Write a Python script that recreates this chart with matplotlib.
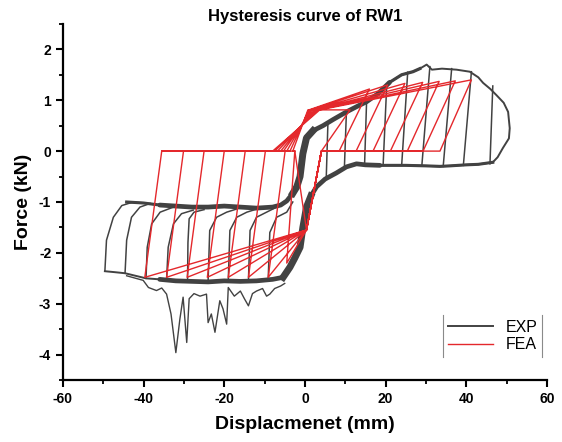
import matplotlib
matplotlib.use("Agg")
import matplotlib.pyplot as plt
from matplotlib.lines import Line2D
from matplotlib.ticker import MultipleLocator

plt.rcParams["font.family"] = ["Liberation Sans", "DejaVu Sans"]
plt.rcParams["axes.unicode_minus"] = False

EXP_COLOR = "#424242"
FEA_COLOR = "#e4282c"

# ---- EXP: loading branch (negative plateau -> positive envelope -> last peak)
exp_upper_x = [-44.2, -40, -36, -32, -28, -24, -20, -16, -12, -8, -6, -4.5, -3, -2, -1.2,
               -0.5, 0.4, 2, 4.5, 7, 10.3, 13, 15.3, 18, 21, 24, 26.8, 28.5, 30.2, 31.5,
               34, 37.6, 40.9, 43, 44.2, 46, 47.5, 49.3, 50.4, 50.8, 50.6, 49.1, 47.8, 46.6]
exp_upper_y = [-1.0, -1.02, -1.06, -1.08, -1.1, -1.1, -1.08, -1.1, -1.12, -1.1, -1.06, -0.98,
               -0.83, -0.7, -0.5, -0.05, 0.26, 0.4, 0.5, 0.62, 0.77, 0.88, 0.97, 1.12, 1.35,
               1.5, 1.56, 1.62, 1.7, 1.6, 1.62, 1.6, 1.56, 1.45, 1.34, 1.22, 1.1, 0.95, 0.77,
               0.45, 0.25, 0.06, -0.12, -0.22]

# ---- EXP: unloading branch (positive plateau -> negative envelope)
exp_lower_x = [46.6, 43, 40, 36, 33.5, 30, 25, 21, 18.6, 15, 12.8, 10.3, 7.8, 5, 2.9, 1.5,
               0.4, -0.5, -1.2, -2.5, -3.7, -5.4, -8, -12, -16, -20, -24, -28, -32, -36,
               -39.4, -42, -44.6, -47, -49.6]
exp_lower_y = [-0.22, -0.26, -0.27, -0.29, -0.3, -0.29, -0.28, -0.28, -0.28, -0.27, -0.25,
               -0.31, -0.43, -0.55, -0.7, -0.88, -1.1, -1.5, -1.89, -2.1, -2.28, -2.48,
               -2.52, -2.55, -2.56, -2.55, -2.57, -2.56, -2.55, -2.52, -2.5, -2.45, -2.4,
               -2.38, -2.36]

# ---- EXP: reloading curves at the negative peaks
exp_neg_unload_x = [
    [-49.6, -49.2, -47.5, -45.4, -42.6],
    [-44.6, -44.2, -43.0, -40.9, -38.4],
    [-39.4, -39.1, -38.0, -35.9, -32.6],
    [-34.3, -33.9, -32.6, -30.6, -27.7],
    [-29.1, -29.0, -28.7, -27.5, -25.0],
    [-24.0, -23.6, -21.9, -19.4, -17.0],
    [-19.0, -18.6, -16.9, -14.4, -12.0],
    [-14.0, -13.6, -12.0, -9.5, -7.5],
    [-9.1, -8.7, -7.0, -4.5, -3.0],
]
exp_neg_unload_y = [
    [-2.36, -1.75, -1.3, -1.07, -1.0],
    [-2.4, -1.75, -1.3, -1.1, -1.03],
    [-2.5, -1.89, -1.43, -1.2, -1.1],
    [-2.52, -1.89, -1.43, -1.23, -1.16],
    [-2.54, -1.8, -1.33, -1.2, -1.15],
    [-2.55, -1.56, -1.3, -1.2, -1.14],
    [-2.55, -1.56, -1.3, -1.2, -1.14],
    [-2.55, -1.56, -1.3, -1.2, -1.12],
    [-2.53, -1.6, -1.3, -1.2, -1.0],
]

# ---- EXP: unloading lines at the positive peaks (top -> bottom)
exp_pos_top_x = [5.7, 10.3, 15.3, 20.3, 25.5, 31.0, 36.4, 41.3, 46.6]
exp_pos_top_y = [0.52, 0.77, 0.97, 1.3, 1.55, 1.66, 1.62, 1.56, 1.28]
exp_pos_bot_x = [5.3, 9.8, 14.8, 19.4, 24.0, 29.0, 34.3, 39.3, 45.9]
exp_pos_bot_y = [-0.52, -0.32, -0.27, -0.28, -0.28, -0.29, -0.3, -0.28, -0.25]

# ---- EXP: spikes below the negative envelope
exp_spike_x = [-44.2, -40.1, -38.8, -36.8, -35.5, -34.3, -33.2, -32.0, -31.0, -30.2, -29.3,
               -28.7, -27.5, -26.0, -24.4, -24.0, -23.2, -22.3, -21.1, -20.3, -19.4, -19.0,
               -17.5, -16.0, -15.0, -14.0, -13.0, -12.0, -10.5, -9.5, -8.7, -7.5, -6.0, -5.0]
exp_spike_y = [-2.45, -2.54, -2.68, -2.74, -2.69, -2.81, -3.2, -3.96, -3.3, -2.87, -3.76,
               -2.9, -2.8, -2.85, -2.81, -3.37, -3.2, -3.56, -2.94, -3.1, -3.4, -2.68,
               -2.85, -2.75, -2.9, -3.04, -2.8, -2.75, -2.7, -2.85, -2.81, -2.7, -2.65, -2.6]

# ---- FEA: cycle key points
fea_neg_peak_x = [-4.5, -9.1, -14.0, -19.0, -24.2, -29.2, -34.3, -39.7]
fea_neg_peak_y = [-2.2, -2.48, -2.48, -2.48, -2.48, -2.48, -2.48, -2.48]
fea_neg_zero_x = [-2.5, -4.9, -9.8, -14.8, -20.0, -25.0, -30.1, -35.5]
fea_fan_start_x = [-3.0, -3.7, -4.5, -5.3, -6.0, -6.8, -7.5, -8.0]
fea_fan_end_x = [0.75, 1.0, 1.4, 1.8, 2.3, 2.8, 3.2, 3.7]
fea_fan_end_y = [0.81, 0.81, 0.81, 0.81, 0.81, 0.81, 0.81, 0.81]
fea_pos_peak_x = [11.2, 16.0, 20.5, 24.8, 29.2, 33.3, 37.3, 41.3]
fea_pos_peak_y = [0.81, 1.22, 1.3, 1.33, 1.35, 1.37, 1.38, 1.40]
fea_pos_zero_x = [4.1, 8.5, 12.7, 16.9, 21.2, 25.4, 29.3, 33.5]
fea_pivot_x = [0.4, 4.1]
fea_pivot_y = [-1.55, 0.0]

fea_x, fea_y = [], []
for i in range(len(fea_neg_peak_x)):
    fea_x += [fea_neg_zero_x[i], fea_fan_start_x[i], fea_fan_end_x[i], fea_pos_peak_x[i],
              fea_pos_zero_x[i], fea_pivot_x[1], fea_pivot_x[0], fea_neg_peak_x[i],
              fea_neg_zero_x[i]]
    fea_y += [0.0, 0.0, fea_fan_end_y[i], fea_pos_peak_y[i], 0.0, fea_pivot_y[1],
              fea_pivot_y[0], fea_neg_peak_y[i], 0.0]

fig = plt.figure(figsize=(5.62, 4.42), dpi=100)
ax = fig.add_axes([0.112, 0.140, 0.861, 0.806])

# EXP thin lines
ax.plot(exp_upper_x, exp_upper_y, color=EXP_COLOR, lw=1.4, label="EXP")
ax.plot(exp_lower_x, exp_lower_y, color=EXP_COLOR, lw=1.4)
ax.plot(exp_spike_x, exp_spike_y, color=EXP_COLOR, lw=1.0)
for xs, ys in zip(exp_neg_unload_x, exp_neg_unload_y):
    ax.plot(xs, ys, color=EXP_COLOR, lw=1.1)
for x0, y0, x1, y1 in zip(exp_pos_top_x, exp_pos_top_y, exp_pos_bot_x, exp_pos_bot_y):
    ax.plot([x0, x1], [y0, y1], color=EXP_COLOR, lw=1.1)
# overlapping cycles make the bands look thick
ax.plot(exp_upper_x[:3], exp_upper_y[:3], color=EXP_COLOR, lw=2.2)
ax.plot(exp_upper_x[2:25], exp_upper_y[2:25], color=EXP_COLOR, lw=3.4, solid_capstyle="round")
ax.plot(exp_upper_x[24:28], exp_upper_y[24:28], color=EXP_COLOR, lw=2.3)
ax.plot(exp_lower_x[:9], exp_lower_y[:9], color=EXP_COLOR, lw=2.2)
ax.plot(exp_lower_x[8:30], exp_lower_y[8:30], color=EXP_COLOR, lw=3.4, solid_capstyle="round")
ax.plot(exp_upper_x[12:18], exp_upper_y[12:18], color=EXP_COLOR, lw=5)
ax.plot(exp_lower_x[15:22], exp_lower_y[15:22], color=EXP_COLOR, lw=5)

# FEA
ax.plot(fea_x, fea_y, color=FEA_COLOR, lw=1.0, label="FEA")
ax.plot([fea_neg_zero_x[0], fea_pivot_x[0]], [0.0, fea_pivot_y[0]], color=FEA_COLOR, lw=1.0)

ax.set_xlim(-60, 60)
ax.set_ylim(-4.5, 2.5)
ax.xaxis.set_major_locator(MultipleLocator(20))
ax.xaxis.set_minor_locator(MultipleLocator(10))
ax.yaxis.set_major_locator(MultipleLocator(1))
ax.yaxis.set_minor_locator(MultipleLocator(0.5))
for side in ["top", "right"]:
    ax.spines[side].set_visible(False)
for side in ["left", "bottom"]:
    ax.spines[side].set_linewidth(1.6)
ax.tick_params(which="major", direction="out", length=5, width=1.5, labelsize=10)
ax.tick_params(which="minor", direction="out", length=3, width=1.3)
for lab in ax.get_xticklabels() + ax.get_yticklabels():
    lab.set_fontweight("bold")

ax.set_title("Hysteresis curve of RW1", fontsize=12, fontweight="bold", pad=1)
ax.set_xlabel("Displacmenet (mm)", fontsize=14, fontweight="bold", labelpad=7)
ax.set_ylabel("Force (kN)", fontsize=14, fontweight="bold", labelpad=5)

leg = ax.legend(loc="lower right", bbox_to_anchor=(0.99, 0.065), borderaxespad=0,
                fontsize=11.5, frameon=False, handlelength=2.8, borderpad=0.3,
                labelspacing=0.15)
fig.canvas.draw()
bb = leg.get_window_extent().transformed(fig.transFigure.inverted())
for xe in [bb.x0, bb.x1]:
    fig.add_artist(Line2D([xe, xe], [bb.y0, bb.y1], color="#8a8a8a", lw=0.8,
                          transform=fig.transFigure))

fig.savefig("out.png", dpi=100)
